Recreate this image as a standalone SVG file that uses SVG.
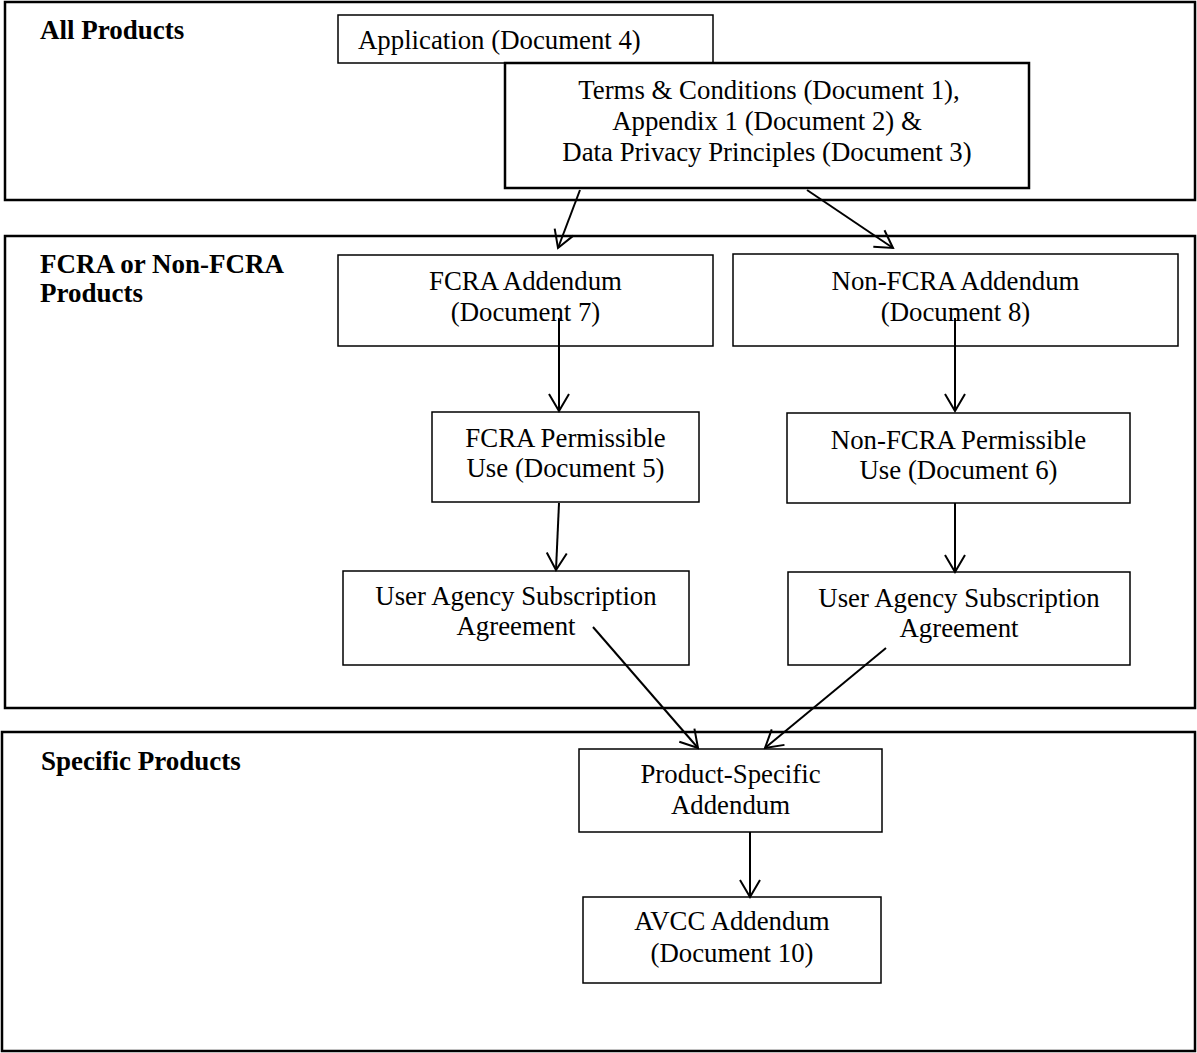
<svg xmlns="http://www.w3.org/2000/svg" width="1197" height="1053" viewBox="0 0 1197 1053">
<style>
  text { font-family: "Liberation Serif", "Times New Roman", serif; font-size: 26.8px; fill: #000; }
  .c { text-anchor: middle; }
  .h { font-weight: bold; font-size: 27px; }
  .grp { fill: none; stroke: #000; stroke-width: 2.5; }
  .box { fill: #fff; stroke: #000; stroke-width: 1.5; }
  .thick { fill: #fff; stroke: #000; stroke-width: 2.5; }
  .edge { fill: none; stroke: #000; stroke-width: 2; marker-end: url(#arr); }
</style>
<defs>
  <marker id="arr" viewBox="-20 -12 22 24" refX="0" refY="0" markerWidth="22" markerHeight="24" markerUnits="userSpaceOnUse" orient="auto">
    <path d="M-17,-10 L0,0 L-17,10" fill="none" stroke="#000" stroke-width="2"/>
  </marker>
</defs>
<rect width="1197" height="1053" fill="#fff"/>

<g id="group-all-products">
  <rect class="grp" x="5" y="2" width="1190" height="198"/>
  <text class="h" x="40" y="39">All Products</text>
</g>
<g id="group-fcra">
  <rect class="grp" x="5" y="236" width="1190" height="472"/>
  <text class="h" x="40" y="273">FCRA or Non-FCRA</text>
  <text class="h" x="40" y="302">Products</text>
</g>
<g id="group-specific">
  <rect class="grp" x="2" y="732" width="1193" height="319"/>
  <text class="h" x="41" y="770">Specific Products</text>
</g>

<g id="node-application">
  <rect class="box" x="338" y="15" width="375" height="48"/>
  <text x="358" y="49">Application (Document 4)</text>
</g>
<g id="node-terms">
  <rect class="thick" x="505" y="63" width="524" height="125"/>
  <text class="c" x="769" y="99">Terms &amp; Conditions (Document 1),</text>
  <text class="c" x="767" y="130">Appendix 1 (Document 2) &amp;</text>
  <text class="c" x="767" y="161">Data Privacy Principles (Document 3)</text>
</g>
<g id="node-fcra-addendum">
  <rect class="box" x="338" y="255" width="375" height="91"/>
  <text class="c" x="525.5" y="290">FCRA Addendum</text>
  <text class="c" x="525.5" y="321">(Document 7)</text>
</g>
<g id="node-nonfcra-addendum">
  <rect class="box" x="733" y="254" width="445" height="92"/>
  <text class="c" x="955.5" y="290">Non-FCRA Addendum</text>
  <text class="c" x="955.5" y="321">(Document 8)</text>
</g>
<g id="node-fcra-permissible">
  <rect class="box" x="432" y="412" width="267" height="90"/>
  <text class="c" x="565.5" y="447">FCRA Permissible</text>
  <text class="c" x="565.5" y="477">Use (Document 5)</text>
</g>
<g id="node-nonfcra-permissible">
  <rect class="box" x="787" y="413" width="343" height="90"/>
  <text class="c" x="958.5" y="449">Non-FCRA Permissible</text>
  <text class="c" x="958.5" y="479">Use (Document 6)</text>
</g>
<g id="node-user-agency-left">
  <rect class="box" x="343" y="571" width="346" height="94"/>
  <text class="c" x="516" y="605">User Agency Subscription</text>
  <text class="c" x="516" y="635">Agreement</text>
</g>
<g id="node-user-agency-right">
  <rect class="box" x="788" y="572" width="342" height="93"/>
  <text class="c" x="959" y="607">User Agency Subscription</text>
  <text class="c" x="959" y="637">Agreement</text>
</g>
<g id="node-product-specific">
  <rect class="box" x="579" y="749" width="303" height="83"/>
  <text class="c" x="730.5" y="783">Product-Specific</text>
  <text class="c" x="730.5" y="814">Addendum</text>
</g>
<g id="node-avcc">
  <rect class="box" x="583" y="897" width="298" height="86"/>
  <text class="c" x="732" y="930">AVCC Addendum</text>
  <text class="c" x="732" y="962">(Document 10)</text>
</g>

<g id="connectors">
  <line class="edge" x1="580" y1="190" x2="558" y2="248"/>
  <line class="edge" x1="807" y1="190" x2="893" y2="248"/>
  <line class="edge" x1="559" y1="318" x2="559" y2="411"/>
  <line class="edge" x1="955" y1="318" x2="955" y2="411"/>
  <line class="edge" x1="559" y1="503" x2="556" y2="570"/>
  <line class="edge" x1="955" y1="503" x2="955" y2="572"/>
  <line class="edge" x1="593" y1="627" x2="698" y2="748"/>
  <line class="edge" x1="886" y1="648" x2="765" y2="748"/>
  <line class="edge" x1="750" y1="832" x2="750" y2="897"/>
</g>
</svg>
